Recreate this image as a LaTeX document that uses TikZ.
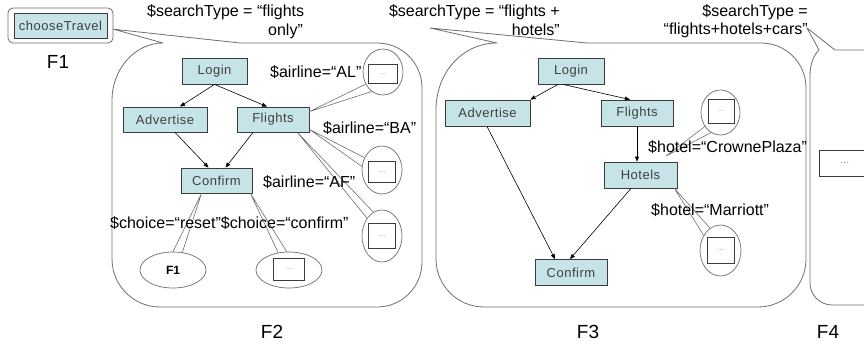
\documentclass[tikz,border=0pt]{standalone}
\usepackage{fontspec}
\setmainfont{Liberation Sans}
\newfontfamily\boxfont[LetterSpace=4]{Liberation Sans}
\usetikzlibrary{shapes.geometric,arrows.meta}
\definecolor{boxfill}{RGB}{198,227,231}
\definecolor{boxline}{RGB}{60,60,60}
\definecolor{boxtext}{RGB}{64,64,64}
\definecolor{callline}{RGB}{110,110,110}
\begin{document}
\begin{tikzpicture}[x=1pt,y=-1pt,
  box/.style={draw=boxline, fill=boxfill, line width=0.8pt, inner sep=0pt, text=boxtext, font=\boxfont\fontsize{13}{15}\selectfont},
  sz/.style 2 args={minimum width=#1pt, minimum height=#2pt},
  ell/.style={ellipse, draw=callline, fill=white, line width=0.7pt, inner sep=0pt},
  dotbox/.style={draw=boxline, fill=white, line width=0.6pt, inner sep=0pt, text=gray, font=\fontsize{7}{8}\selectfont},
  lab/.style={inner sep=0pt, anchor=west, font=\fontsize{16}{18}\selectfont},
  rlab/.style={inner sep=0pt, anchor=east, font=\fontsize{16}{18}\selectfont},
  flab/.style={inner sep=0pt, font=\fontsize{19}{21}\selectfont},
  arr/.style={-{Triangle[length=5pt,width=4pt]}, line width=0.6pt},
  call/.style={draw=callline, line width=0.8pt, line join=round},
  wedge/.style={draw=callline, line width=0.6pt}]
\useasboundingbox (0,0) rectangle (864,347);

% F1
\node[draw=callline, rounded corners=5pt, line width=0.8pt, sz={105}{35}] (ctout) at (60.5,25.5) {};
\node[box, sz={93}{25}] (ct) at (60.5,25.5) {chooseTravel};
\node[flab] (f1l) at (58,62) {F1};

% callout shapes
\draw[call] (240,43) -- (ctout.-4) -- (163,43) .. controls (135,43) and (112,69) .. (112,100)
  -- (112,259) .. controls (112,285.5) and (133.5,307) .. (160,307) -- (377,307)
  .. controls (402,307) and (422,287) .. (422,262) -- (422,88)
  .. controls (422,63) and (402,43) .. (377,43) -- cycle;
\coordinate (p3) at (430,28);
\draw[call] (587,43) -- (p3) -- (497,43) .. controls (463,43) and (436,72) .. (436,110)
  -- (436,259) .. controls (436,285.5) and (457.5,307) .. (484,307) -- (758,307)
  .. controls (784.5,307) and (806,285.5) .. (806,259) -- (806,88)
  .. controls (806,63) and (786,43) .. (761,43) -- cycle;
\coordinate (p4) at (807,28);
\draw[call] (870,50) -- (835,50) -- (p4) -- (819,50) .. controls (813,56) and (810,65) .. (810,76)
  -- (810,283) .. controls (810,295) and (820,305) .. (832,305) -- (870,305);

% top texts
\node[lab] (t1a) at (147,12) {\$searchType = “flights};
\node[lab] (t1b) at (268,31) {only”};
\node[rlab] (t2a) at (560,12) {\$searchType = “flights +};
\node[rlab] (t2b) at (560,30) {hotels”};
\node[rlab] (t4a) at (808,12) {\$searchType =};
\node[rlab] (t4b) at (808,30) {“flights+hotels+cars”};

% F2 nodes
\node[box, sz={65}{26}] (lg2) at (214.5,71) {Login};
\node[box, sz={84}{25}] (ad2) at (165,119.5) {Advertise};
\node[box, sz={72}{25}] (fl2) at (273,119.5) {Flights};
\node[box, sz={71}{25}] (cf2) at (216.5,180.5) {Confirm};

\node[ell, sz={40}{46}] (al) at (383,72) {};
\node[dotbox, sz={29}{19}] (ald) at (383,74) {\dots};
\node[ell, sz={40}{48}] (ba) at (382,170) {};
\node[dotbox, sz={27}{21}] (bad) at (382,172) {\dots};
\node[ell, sz={40}{52}] (af) at (382,236) {};
\node[dotbox, sz={27}{25}] (afd) at (382,236) {\dots};
\node[ell, sz={66}{36}, font=\bfseries\fontsize{12}{14}\selectfont] (f1e) at (173,270) {F1};
\node[ell, sz={66}{36}] (cfe) at (289,270) {};
\node[dotbox, sz={31}{22}] (cfd) at (289,269) {\dots};

\draw[arr] (lg2.south) -- ([xshift=15pt]ad2.north);
\draw[arr] (lg2.south) -- ([xshift=-6pt]fl2.north);
\draw[arr] ([xshift=10pt]ad2.south) -- ([xshift=-8pt]cf2.north);
\draw[arr] ([xshift=-20pt]fl2.south) -- ([xshift=9pt]cf2.north);

\draw[wedge] (al.215) -- ([yshift=-5pt]fl2.north east) -- (al.240);
\draw[wedge] (ba.145) -- ([yshift=3pt]fl2.south east) -- (ba.170);
\draw[wedge] (af.130) -- ([xshift=-12pt]fl2.south east) -- (af.110);
\draw[wedge] (f1e.90) -- ([xshift=-15pt]cf2.south) -- (f1e.62);
\draw[wedge] (cfe.122) -- ([xshift=-2pt]cf2.south east) -- (cfe.97);

\node[lab] (all) at (270,72) {\$airline=“AL”};
\node[lab] (bal) at (323,128) {\$airline=“BA”};
\node[lab] (afl) at (263,182) {\$airline=“AF”};
\node[lab] (chl) at (110,223) {\$choice=“reset”\$choice=“confirm”};
\node[flab] (f2l) at (272,332) {F2};

% F3 nodes
\node[box, sz={66}{26}] (lg3) at (571,71) {Login};
\node[box, sz={85}{26}] (ad3) at (487.5,113) {Advertise};
\node[box, sz={72}{26}] (fl3) at (637,113) {Flights};
\node[box, sz={73}{26}] (ho3) at (640.5,175) {Hotels};
\node[box, sz={72}{26}] (cf3) at (571,272.5) {Confirm};

\node[ell, sz={39}{45}] (cpe) at (720.5,112.5) {};
\node[dotbox, sz={26}{24}] (cpd) at (721,111) {\dots};
\node[ell, sz={41}{51}] (mae) at (720.5,250.5) {};
\node[dotbox, sz={27}{26}] (mad) at (720.5,250) {\dots};

\draw[arr] ([xshift=-13pt]lg3.south) -- (ad3.north east);
\draw[arr] ([xshift=-8pt]lg3.south) -- ([xshift=-7pt]fl3.north);
\draw[arr] (fl3.south) -- (fl3.south |- ho3.north);
\draw[arr] ([xshift=-0.5pt]ad3.south) -- ([xshift=-16pt]cf3.north);
\draw[arr] ([xshift=-9.5pt]ho3.south) -- ([xshift=-1pt]cf3.north);

\coordinate (cpa) at (666,156);
\draw[wedge] (cpe.222) -- (cpa) -- (cpe.245);
\draw[wedge] (mae.138) -- ([xshift=-3pt]ho3.south east) -- (mae.115);

\node[lab] (cpl) at (648,147) {\$hotel=“CrownePlaza”};
\node[lab] (mal) at (651,210) {\$hotel=“Marriott”};
\node[flab] (f3l) at (588,332) {F3};

% F4
\node[dotbox, sz={51}{26}, font=\fontsize{10}{12}\selectfont] (f4d) at (844.5,163) {\dots};
\node[flab] (f4l) at (828,332) {F4};
\end{tikzpicture}
\end{document}
